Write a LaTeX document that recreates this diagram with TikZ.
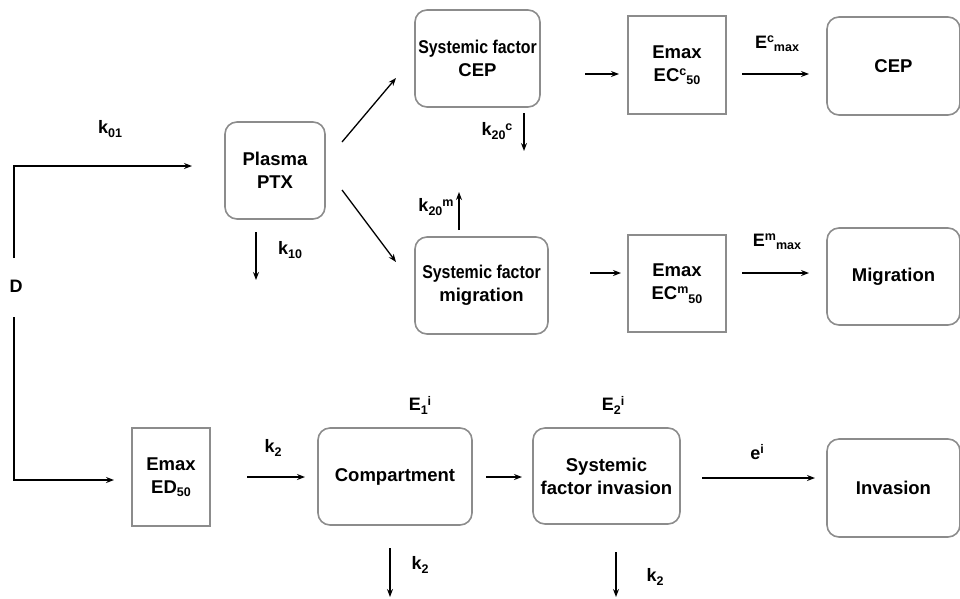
\documentclass[tikz,border=0pt]{standalone}
\usepackage{fontspec}
\setmainfont{Liberation Sans}
\usetikzlibrary{arrows.meta}
\newcommand\lo[1]{\raisebox{-0.35ex}{\fontsize{12.5}{12.5}\selectfont #1}}
\newcommand\hi[1]{\raisebox{0.6ex}{\fontsize{12.5}{12.5}\selectfont #1}}
\newcommand\narrow[1]{\scalebox{0.86}[1]{#1}}
\begin{document}
\begin{tikzpicture}[x=1pt,y=-1pt,
  rbox/.style={draw=black!45, line width=1.6pt, rounded corners=12pt, align=center, font=\bfseries\fontsize{18.5}{23}\selectfont, inner sep=0pt},
  sbox/.style={draw=black!45, line width=1.6pt, align=center, font=\bfseries\fontsize{18.5}{23}\selectfont, inner sep=0pt},
  lbl/.style={font=\bfseries\fontsize{18}{21}\selectfont, inner sep=1pt},
  arr/.style={-{Stealth[length=8pt,width=6pt]}, line width=1.3pt}]
\useasboundingbox (0,0) rectangle (960,598);
% nodes
\node[rbox, minimum width=100pt, minimum height=97pt] (ptx) at (275,170.5) {Plasma\\PTX};
\node[rbox, minimum width=125pt, minimum height=97pt] (sfc) at (477.5,58.5) {\narrow{Systemic factor}\\CEP};
\node[sbox, minimum width=98pt, minimum height=98pt] (ec) at (677,65) {Emax\\EC\hi{c}\lo{50}};
\node[rbox, minimum width=133pt, minimum height=98pt] (cep) at (893.5,66) {CEP};
\node[rbox, minimum width=133pt, minimum height=97pt] (sfm) at (481.5,285.5) {\narrow{Systemic factor}\\migration};
\node[sbox, minimum width=98pt, minimum height=97pt] (em) at (677,283.5) {Emax\\EC\hi{m}\lo{50}};
\node[rbox, minimum width=133pt, minimum height=97pt] (mig) at (893.5,276.5) {Migration};
\node[sbox, minimum width=78pt, minimum height=98pt] (ed) at (171,477) {Emax\\ED\lo{50}};
\node[rbox, minimum width=154pt, minimum height=97pt] (comp) at (395,476.5) {Compartment};
\node[rbox, minimum width=147pt, minimum height=96pt] (sfi) at (606.5,476) {Systemic\\factor invasion};
\node[rbox, minimum width=133pt, minimum height=98pt] (inv) at (893.5,488) {Invasion};
\node[lbl] (D) at (16,286) {D};
% labels
\node[lbl] (k01) at (110,129) {k\lo{01}};
\node[lbl] (k10) at (290,250) {k\lo{10}};
\node[lbl] (k20c) at (497,131) {k\lo{20}\hi{c}};
\node[lbl] (k20m) at (436,207) {k\lo{20}\hi{m}};
\node[lbl] (Ecmax) at (777,44) {E\hi{c}\lo{max}};
\node[lbl] (Emmax) at (777,242) {E\hi{m}\lo{max}};
\node[lbl] (k2a) at (273,448) {k\lo{2}};
\node[lbl] (E1i) at (420,405) {E\lo{1}\hi{i}};
\node[lbl] (E2i) at (613,405) {E\lo{2}\hi{i}};
\node[lbl] (ei) at (757,452) {e\hi{i}};
\node[lbl] (k2b) at (420,565) {k\lo{2}};
\node[lbl] (k2c) at (655,577) {k\lo{2}};
% free-end coordinates
\coordinate (d1) at (14,258);
\coordinate (d2) at (14,317);
\coordinate (k10s) at (256,232);
\coordinate (k10e) at (256,280);
\coordinate (k20cs) at (524,113);
\coordinate (k20ce) at (524,151);
\coordinate (k20ms) at (459,230);
\coordinate (k20me) at (459,192);
\coordinate (k2bs) at (390,548);
\coordinate (k2be) at (390,597);
\coordinate (k2cs) at (616,552);
\coordinate (k2ce) at (616,597);
% connectors
\draw[arr] (d1) |- (192,166);
\draw[arr] (d2) |- (114,480);
\draw[arr] (342,142) -- (396,78);
\draw[arr] (342,190) -- (396,262);
\draw[arr] (k10s) -- (k10e);
\draw[arr] (k20cs) -- (k20ce);
\draw[arr] (k20ms) -- (k20me);
\draw[arr] (585,74) -- (619,74);
\draw[arr] (742,74) -- (809,74);
\draw[arr] (590,273) -- (621,273);
\draw[arr] (742,273) -- (809,273);
\draw[arr] (247,477) -- (305,477);
\draw[arr] (486,477) -- (522,477);
\draw[arr] (702,478) -- (815,478);
\draw[arr] (k2bs) -- (k2be);
\draw[arr] (k2cs) -- (k2ce);
\end{tikzpicture}
\end{document}
